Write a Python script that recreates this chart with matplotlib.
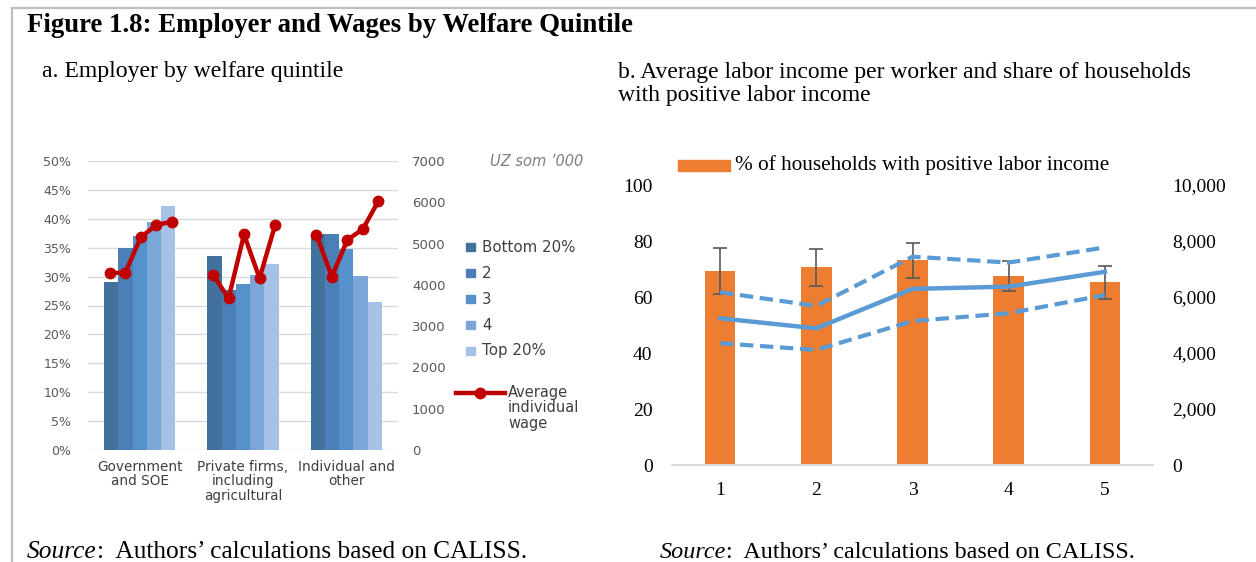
import matplotlib
matplotlib.use("Agg")
import matplotlib.pyplot as plt
from matplotlib.patches import Rectangle
from matplotlib.ticker import FuncFormatter
import numpy as np

# ---- data, panel a ----
sectors = ["Government\nand SOE", "Private firms,\nincluding\nagricultural", "Individual and\nother"]
quintiles = ["Bottom 20%", "2", "3", "4", "Top 20%"]
share_bottom = [29.1, 33.6, 37.4]
share_q2 = [35.0, 27.6, 37.3]
share_q3 = [37.0, 28.7, 34.8]
share_q4 = [39.5, 30.3, 30.1]
share_top = [42.2, 32.2, 25.6]
# average individual wage, UZ som '000, per sector then quintile
wage_gov = [4290, 4290, 5150, 5450, 5530]
wage_private = [4250, 3670, 5220, 4160, 5440]
wage_indiv = [5210, 4200, 5090, 5350, 6030]

# ---- data, panel b ----
quint_b = [1, 2, 3, 4, 5]
pct_positive = [69.3, 70.6, 73.2, 67.5, 65.2]
pct_low = [61.1, 63.9, 66.9, 62.1, 59.3]
pct_high = [77.6, 77.1, 79.4, 73.0, 71.2]
income_avg = [5240, 4880, 6290, 6370, 6900]
income_upper = [6170, 5680, 7440, 7230, 7770]
income_lower = [4350, 4110, 5140, 5420, 6070]

W, H = 1256, 562
fig = plt.figure(figsize=(W / 100, H / 100), dpi=100)

# background axes in pixel coordinates for frame and texts
bg = fig.add_axes([0, 0, 1, 1])
bg.set_xlim(0, W)
bg.set_ylim(H, 0)
bg.axis("off")

serif = "Liberation Serif"
bg.plot([12, W], [8, 8], color="#BFBFBF", lw=1.6)
bg.plot([12, 12], [8, H], color="#BFBFBF", lw=1.6)
bg.text(27, 26, "Figure 1.8: Employer and Wages by Welfare Quintile", family=serif,
        fontsize=19.3, fontweight="bold", va="center", ha="left")
bg.text(42, 71, "a. Employer by welfare quintile", family=serif, fontsize=17.1, va="center")
bg.text(618, 84, "b. Average labor income per worker and share of households\nwith positive labor income",
        family=serif, fontsize=17.0, va="center", linespacing=1.13)
for x0, fs in [(27, 18.3), (660, 17.4)]:
    src = bg.text(x0, 552, "Source", family=serif, fontsize=fs, style="italic", va="center")
    bg.annotate(":  Authors\u2019 calculations based on CALISS.", xy=(1, 0.5), xycoords=src,
                va="center", ha="left", family=serif, fontsize=fs)


def px_axes(x0, y0, x1, y1):
    return fig.add_axes([x0 / W, (H - y1) / H, (x1 - x0) / W, (y1 - y0) / H])


# ---------------- panel a ----------------
sans = "DejaVu Sans"
blue_cols = ["#41719C", "#4A7FB8", "#5592CB", "#7BA7D8", "#A5C1E5"]
shares = [share_bottom, share_q2, share_q3, share_q4, share_top]
wages = [wage_gov, wage_private, wage_indiv]

axa = px_axes(88, 161, 398, 450)
x = np.arange(len(sectors))
bw = 0.138
for i, vals in enumerate(shares):
    axa.bar(x + (i - 2) * bw, np.array(vals) / 100, bw, color=blue_cols[i], zorder=2)
axa.set_xlim(-0.5, 2.5)
axa.set_ylim(0, 0.5)
axa.set_yticks(np.arange(0, 0.501, 0.05))
axa.yaxis.set_major_formatter(FuncFormatter(lambda v, p: "%d%%" % round(v * 100)))
axa.grid(axis="y", color="#D9D9D9", lw=1, zorder=0)
axa.set_axisbelow(True)
for s in axa.spines.values():
    s.set_visible(False)
axa.tick_params(length=0, labelsize=9, labelcolor="#595959")
axa.tick_params(axis="y", pad=12)
axa.tick_params(axis="x", pad=7, labelcolor="#404040", labelsize=9.8)
axa.set_xticks(x)
axa.set_xticklabels(sectors, family=sans, linespacing=1.05)
for lab in axa.get_yticklabels():
    lab.set_family(sans)

axw = axa.twinx()
line_off = (np.arange(5) - 2) * 0.15 + 0.01
for g, w in enumerate(wages):
    axw.plot(g + line_off, w, color="#C00000", lw=3.2, marker="o", ms=7.5, zorder=3)
axw.set_ylim(0, 7000)
axw.set_yticks(np.arange(0, 7001, 1000))
for s in axw.spines.values():
    s.set_visible(False)
axw.tick_params(length=0, labelsize=9.5, labelcolor="#595959", pad=10)
for lab in axw.get_yticklabels():
    lab.set_family(sans)

bg.text(490, 161, "UZ som \u2019000", family=sans, fontsize=10.5, style="italic",
        color="#7F7F7F", va="center")
for i, q in enumerate(quintiles):
    yy = 247 + i * 26
    bg.add_patch(Rectangle((466, yy - 4), 9, 8, color=blue_cols[i]))
    bg.text(482, yy, q, family=sans, fontsize=10.8, color="#404040", va="center")
bg.plot([456, 505], [393, 393], color="#C00000", lw=3.2)
bg.plot([480], [393], color="#C00000", marker="o", ms=7.5)
bg.text(508, 385, "Average\nindividual\nwage", family=sans, fontsize=10.5, color="#404040",
        va="top", linespacing=1.03)

# ---------------- panel b ----------------
orange = "#ED7D31"
lblue = "#5B9BD5"
axb = px_axes(672, 185, 1153, 465)
yerr = [np.array(pct_positive) - np.array(pct_low), np.array(pct_high) - np.array(pct_positive)]
axb.bar(quint_b, pct_positive, 0.32, color=orange, zorder=2)
axb.errorbar(quint_b, pct_positive, yerr=yerr, fmt="none", ecolor="#595959",
             elinewidth=1.2, capsize=5, capthick=1.2, zorder=3)
axb.set_xlim(0.5, 5.5)
axb.set_ylim(0, 100)
axb.set_yticks(np.arange(0, 101, 20))
axb.set_xticks(quint_b)
for s in ["top", "right", "left"]:
    axb.spines[s].set_visible(False)
axb.spines["bottom"].set_color("#D9D9D9")
axb.spines["bottom"].set_linewidth(1.5)
axb.tick_params(length=0, labelsize=14)
axb.tick_params(axis="y", pad=14)
axb.tick_params(axis="x", pad=12)
for lab in axb.get_xticklabels() + axb.get_yticklabels():
    lab.set_family(serif)

axi = axb.twinx()
axi.plot(quint_b, income_avg, color=lblue, lw=3.2, zorder=4)
axi.plot(quint_b, income_upper, color=lblue, lw=3, ls=(0, (3.2, 1.6)), zorder=4)
axi.plot(quint_b, income_lower, color=lblue, lw=3, ls=(0, (3.2, 1.6)), zorder=4)
axi.set_ylim(0, 10000)
axi.set_yticks(np.arange(0, 10001, 2000))
axi.yaxis.set_major_formatter(FuncFormatter(lambda v, p: "{:,}".format(int(v))))
for s in axi.spines.values():
    s.set_visible(False)
axi.tick_params(length=0, labelsize=14, pad=14)
for lab in axi.get_yticklabels():
    lab.set_family(serif)

bg.add_patch(Rectangle((678, 160), 52, 11, color=orange))
bg.text(735, 165, "% of households with positive labor income", family=serif, fontsize=15.3, va="center")
bg.plot([680, 728], [203, 203], color=lblue, lw=3.5, solid_capstyle="round")
bg.text(735, 203, "Average labor income", family=serif, fontsize=15.3, va="center")

fig.savefig("out.png", dpi=100)
